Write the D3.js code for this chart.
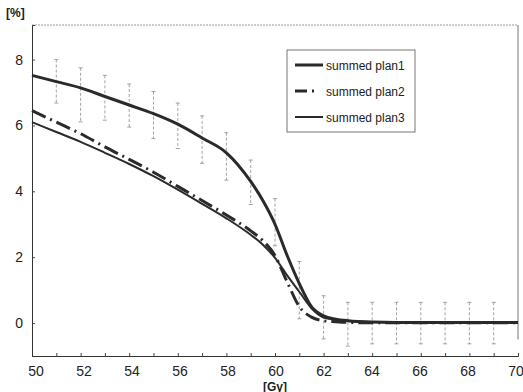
<!DOCTYPE html>
<html>
<head>
<meta charset="utf-8">
<script src="https://cdn.jsdelivr.net/npm/d3@7"></script>
<style>
  body { margin: 0; background: #fff; }
  text { font-family: "Liberation Sans", Arial, sans-serif; fill: #222; }
</style>
</head>
<body>
<div id="chart"></div>
<script>
// data
var dose = [50, 51, 52, 53, 54, 55, 56, 57, 58, 59, 59.5, 60, 60.5, 61, 61.5, 62, 62.5, 63, 64, 65, 66, 67, 68, 69, 70];
var plan1 = [7.52, 7.33, 7.14, 6.88, 6.62, 6.36, 6.04, 5.62, 5.17, 4.3, 3.72, 3.0, 2.05, 1.2, 0.5, 0.22, 0.12, 0.07, 0.03, 0.02, 0.02, 0.02, 0.02, 0.02, 0.02];
var plan2 = [6.45, 6.1, 5.75, 5.35, 4.97, 4.58, 4.15, 3.72, 3.28, 2.8, 2.5, 2.05, 1.25, 0.5, 0.18, 0.07, 0.04, 0.02, 0.01, 0.01, 0.01, 0.01, 0.01, 0.01, 0.01];
var plan3 = [6.1, 5.8, 5.5, 5.17, 4.83, 4.46, 4.05, 3.62, 3.18, 2.68, 2.38, 1.98, 1.45, 0.95, 0.45, 0.17, 0.1, 0.06, 0.03, 0.02, 0.02, 0.02, 0.02, 0.02, 0.02];

// error bars of plan1
var errDose = [51, 52, 53, 54, 55, 56, 57, 58, 59, 60, 61, 62, 63, 64, 65, 66, 67, 68, 69];
var errHigh = [8.0, 7.75, 7.52, 7.26, 7.03, 6.68, 6.29, 5.78, 4.95, 3.78, 1.87, 0.83, 0.63, 0.63, 0.63, 0.63, 0.63, 0.63, 0.63];
var errLow = [6.68, 6.11, 6.16, 5.95, 5.6, 5.3, 4.85, 4.34, 3.6, 2.35, 0.13, -0.48, -0.7, -0.63, -0.63, -0.63, -0.63, -0.63, -0.63];

var xTicks = [50, 52, 54, 56, 58, 60, 62, 64, 66, 68, 70];
var yTicks = [0, 2, 4, 6, 8];
var seriesNames = ["summed plan1", "summed plan2", "summed plan3"];

var svgWidth = 523;
var svgHeight = 392;
var margin = { top: 25, right: 5, bottom: 36, left: 32 };
var width = svgWidth - margin.left - margin.right;
var height = svgHeight - margin.top - margin.bottom;

var svg = d3.select("#chart").append("svg")
  .attr("width", svgWidth)
  .attr("height", svgHeight);

var chartGroup = svg.append("g")
  .attr("transform", `translate(${margin.left}, ${margin.top})`);

var x = d3.scaleLinear().domain([50, 70]).range([0, width]);
var y = d3.scaleLinear().domain([-1, 9.05]).range([height, 0]);

// frame: top dotted, right solid gray
chartGroup.append("line")
  .attr("x1", 0).attr("x2", width).attr("y1", 0).attr("y2", 0)
  .attr("stroke", "#999").attr("stroke-dasharray", "2,1");
chartGroup.append("line")
  .attr("x1", width).attr("x2", width).attr("y1", 0).attr("y2", y(-0.5))
  .attr("stroke", "#777");

// x axis with inner ticks at every Gy
var xAxis = chartGroup.append("g")
  .attr("transform", "translate(0," + height + ")")
  .call(d3.axisBottom(x).tickValues(d3.range(50, 71)).tickSize(-3).tickFormat(""));
xAxis.select(".domain").attr("stroke", "#333");
xAxis.selectAll(".tick line").attr("stroke", "#444");

// labels sit a little right of the ticks on the left, a little left at the end
chartGroup.append("g")
  .selectAll("text")
  .data(xTicks)
  .enter()
  .append("text")
  .attr("x", d => x(d) + 4 - 0.3 * (d - 50))
  .attr("y", height + 20)
  .attr("text-anchor", "middle")
  .attr("font-size", "14px")
  .text(d => d);

// y axis
var yAxis = chartGroup.append("g")
  .call(d3.axisLeft(y).tickValues(yTicks).tickSize(-3).tickFormat(""));
yAxis.select(".domain").attr("stroke", "#333");
yAxis.selectAll(".tick line").attr("stroke", "#444");

chartGroup.append("g")
  .selectAll("text")
  .data(yTicks)
  .enter()
  .append("text")
  .attr("x", -9)
  .attr("y", d => y(d) + 5)
  .attr("text-anchor", "end")
  .attr("font-size", "14px")
  .text(d => d);

// axis titles
svg.append("text")
  .attr("x", 6).attr("y", 17)
  .attr("font-size", "12px").attr("font-weight", "bold")
  .text("[%]");
svg.append("text")
  .attr("x", margin.left + x(60)).attr("y", 391)
  .attr("text-anchor", "middle")
  .attr("font-size", "12px").attr("font-weight", "bold")
  .text("[Gy]");

// error bars
var bars = chartGroup.append("g").selectAll("g")
  .data(errDose)
  .enter()
  .append("g")
  .attr("stroke", "#999")
  .attr("stroke-width", 0.9);
bars.append("line")
  .attr("x1", d => x(d)).attr("x2", d => x(d))
  .attr("y1", (d, i) => y(errHigh[i])).attr("y2", (d, i) => y(errLow[i]))
  .attr("stroke-dasharray", "3,2");
bars.append("line")
  .attr("x1", d => x(d) - 2).attr("x2", d => x(d) + 2)
  .attr("y1", (d, i) => y(errHigh[i])).attr("y2", (d, i) => y(errHigh[i]));
bars.append("line")
  .attr("x1", d => x(d) - 2).attr("x2", d => x(d) + 2)
  .attr("y1", (d, i) => y(errLow[i])).attr("y2", (d, i) => y(errLow[i]));

// curves
var line = d3.line()
  .x((d, i) => x(dose[i]))
  .y(d => y(d))
  .curve(d3.curveMonotoneX);

var styles = [
  { values: plan1, width: 3, dash: null },
  { values: plan2, width: 3, dash: "15,5,2,5" },
  { values: plan3, width: 2, dash: null }
];

chartGroup.append("g")
  .selectAll("path")
  .data(styles)
  .enter()
  .append("path")
  .attr("d", d => line(d.values))
  .attr("fill", "none")
  .attr("stroke", "#2a2a2a")
  .attr("stroke-width", d => d.width)
  .attr("stroke-dasharray", d => d.dash);

// legend
var legend = svg.append("g").attr("transform", "translate(287,50)");
legend.append("rect")
  .attr("width", 128).attr("height", 82)
  .attr("fill", "#fff").attr("stroke", "#777");
var items = legend.selectAll("g.item")
  .data(styles)
  .enter()
  .append("g")
  .attr("class", "item")
  .attr("transform", (d, i) => `translate(0, ${15 + i * 26})`);
items.append("line")
  .attr("x1", 8).attr("x2", 36)
  .attr("stroke", "#2a2a2a")
  .attr("stroke-width", d => d.width)
  .attr("stroke-dasharray", d => d.dash ? "12,5,2,20" : null);
items.append("text")
  .attr("x", 39).attr("y", 4.5)
  .attr("font-size", "12px")
  .text((d, i) => seriesNames[i]);
</script>
</body>
</html>
